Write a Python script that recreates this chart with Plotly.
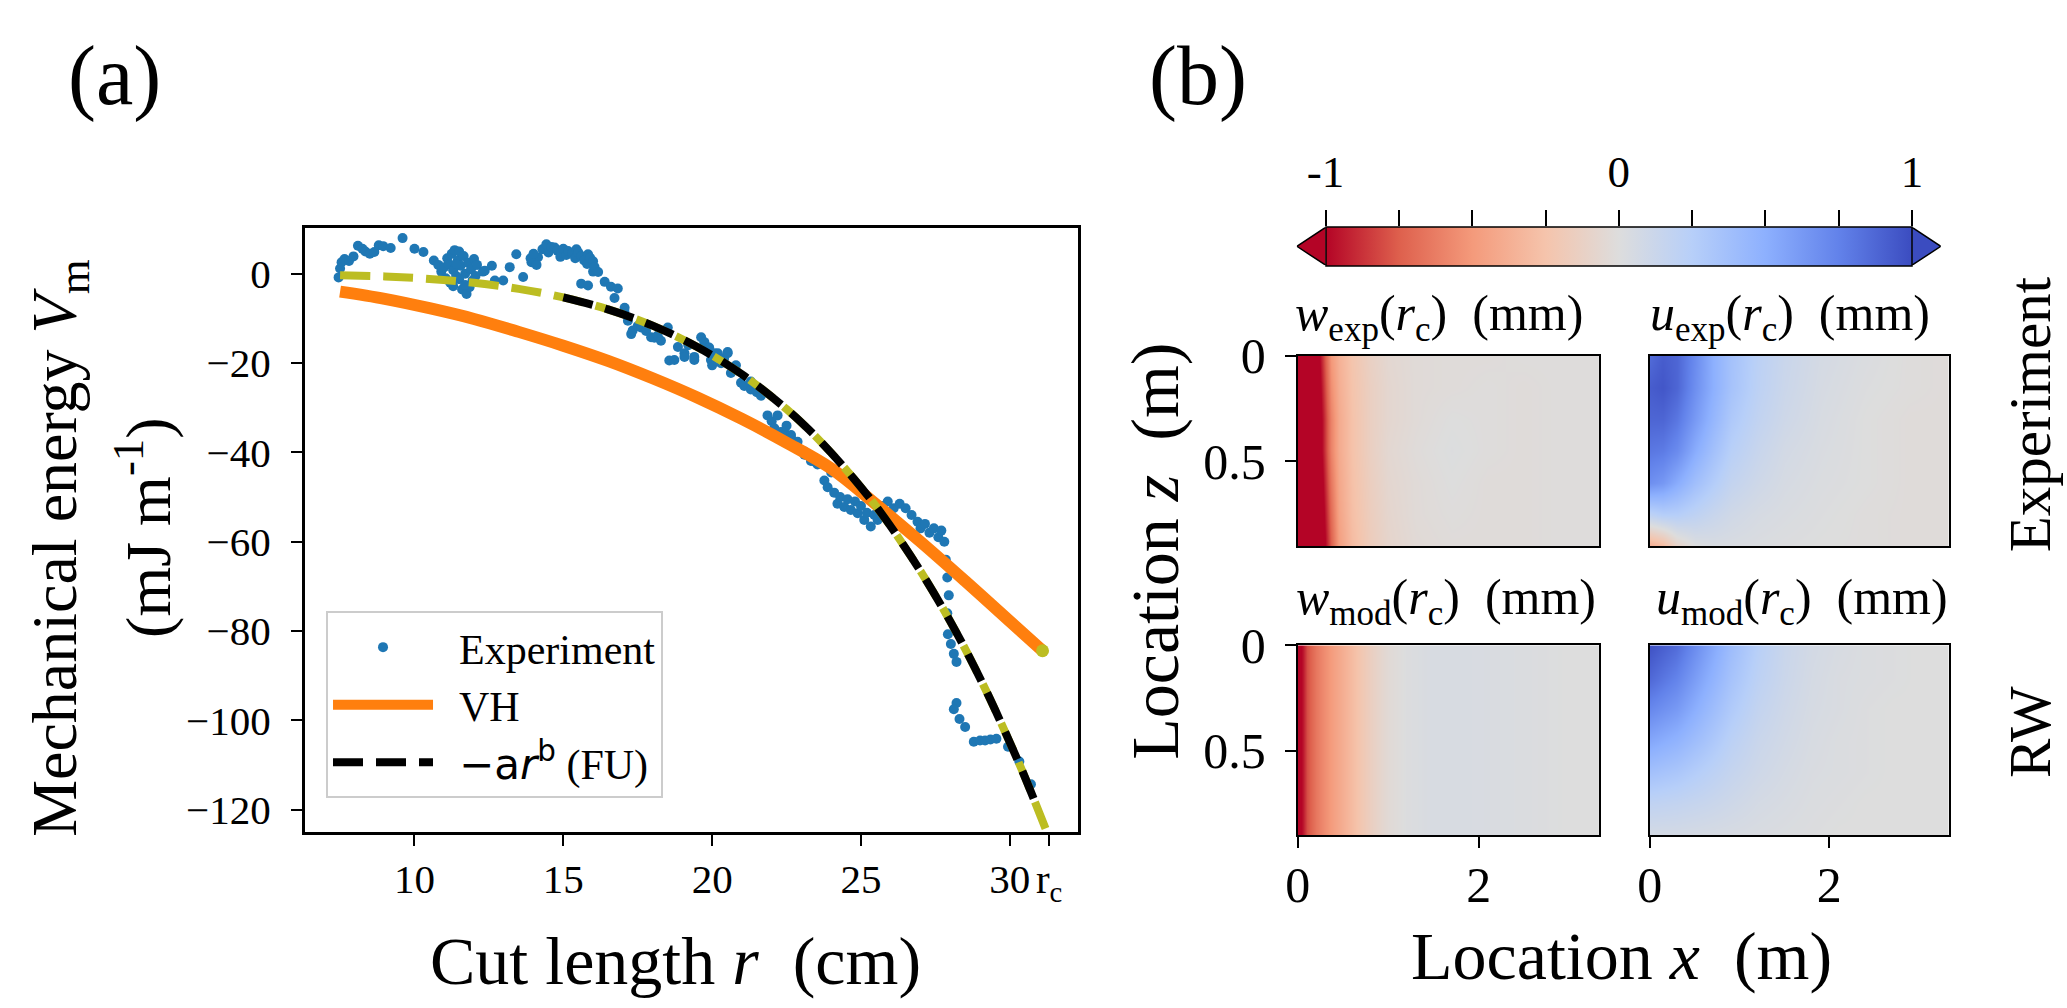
import plotly.graph_objects as go

W, H = 2067, 1008
SERIF = "Liberation Serif"


def px(x):
    return x / W


def py(y):
    return 1 - y / H


# ---------------- panel (a) data ----------------
exp_r = [
    7.45, 7.5, 7.55, 7.65, 7.8, 7.95, 8.1, 8.25, 8.35, 8.5, 8.65, 8.8, 8.95, 9.2, 9.6, 10.0, 10.3,
    10.65, 10.8, 10.9, 11.0, 11.05, 11.1, 11.15, 11.2, 11.25, 11.3, 11.35, 11.4, 11.45, 11.5, 11.55, 11.6,
    11.65, 11.7, 11.75, 11.8, 11.85, 11.9, 11.95, 12.0, 12.05, 12.1, 11.3, 11.5, 11.7, 11.4, 12.3, 12.6, 12.7,
    12.36, 12.98, 13.2, 13.42, 13.65, 13.93, 14.15, 13.9, 14.0, 14.1,
    14.3, 14.43, 14.5, 14.6, 14.71, 14.8, 14.9, 14.93, 15.0, 15.1, 15.16, 15.3, 15.4, 15.44, 15.5, 15.6,
    15.7, 15.8, 15.83, 15.9, 16.0, 16.0, 16.05, 16.17, 15.6, 15.83, 16.39, 16.6, 16.83,
    16.72, 17.05, 17.06, 17.17, 17.28, 17.33, 17.5, 17.61, 17.78, 17.95, 18.06, 18.17, 18.28, 18.51, 18.56, 18.73, 18.85,
    19.07, 19.07, 19.2, 19.4, 19.4, 19.63, 19.74, 19.9, 19.96, 20.0, 20.08, 20.19, 20.3, 20.4, 20.52, 20.52, 20.63, 20.8,
    20.97, 21.08, 21.3, 21.3, 21.5, 21.64, 21.86, 22.0, 22.09, 22.2, 22.31, 22.42, 22.5, 22.65, 22.65, 22.87, 22.87,
    23.1, 23.1, 23.32, 23.43,
    23.54, 23.77, 23.88, 24.0, 24.1, 24.21, 24.3, 24.44, 24.55, 24.66, 24.8, 24.89, 25.0, 25.11, 25.2, 25.33, 25.45, 25.56,
    25.7, 25.9, 26.1, 26.3, 26.5, 26.7, 26.9, 27.0, 27.15, 27.3, 27.45, 27.6, 27.7, 27.8, 27.85, 27.9, 27.95, 27.9,
    27.92, 28.02, 28.12, 28.21,
    28.21, 28.12, 28.31, 28.5, 28.79, 29.0, 29.17, 29.35, 29.55, 29.94, 30.32, 30.71,
]
exp_v = [
    -0.8, 1.2, 2.6, 3.3, 2.9, 3.9, 6.3, 5.6, 5.0, 4.5, 4.9, 6.4, 6.2, 5.8, 8.0, 5.6, 4.9,
    3.0, 2.0, 0.5, 1.5, -1.0, 3.5, 2.2, -2.0, 4.5, 0.8, 5.3, -0.5, 3.0, 5.0, 1.8, -3.5,
    4.0, 0.0, -4.5, 2.5, -3.0, 1.0, -1.5, 3.3, -0.5, 2.0, -2.8, -1.2, -2.5, 2.2, 0.5, 1.8, -1.5,
    0.7, -1.5, 1.5, 4.4, -0.7, 2.6, 3.7, 3.5, 4.5, 2.0,
    5.5, 6.6, 4.8, 6.0, 5.9, 5.2, 3.8, 4.8, 5.6, 4.2, 5.1, 4.6, 3.5, 5.5, 4.8, 4.0,
    3.0, 2.2, 4.4, 3.6, 0.5, 2.8, 1.5, 0.4, -2.2, -2.6, -1.8, -2.9, -3.3,
    -5.4, -8.4, -7.6, -10.5, -13.5, -12.7, -11.7, -12.0, -12.8, -14.2, -14.3, -13.8, -15.0, -12.0, -19.4, -19.3, -16.4,
    -17.8, -18.6, -16.0, -18.6, -19.3, -14.2, -15.3, -16.5, -19.3, -20.5, -17.8, -17.8, -20.0, -19.0, -17.8, -17.5, -22.2, -20.5,
    -24.4, -25.1, -25.9, -24.1, -26.5, -27.3, -31.7, -33.0, -34.6, -31.7, -35.4, -35.4, -34.0, -36.1, -36.8, -37.6, -39.0,
    -39.8, -40.5, -41.9, -42.0,
    -42.7, -46.3, -47.8, -44.5, -49.0, -51.5, -50.0, -52.2, -50.5, -52.9, -51.0, -53.6, -52.0, -55.1, -53.5, -56.6, -54.0, -55.1,
    -52.0, -51.0, -52.5, -51.5, -52.5, -54.0, -55.5, -57.0, -56.0, -58.0, -57.0, -59.0, -57.5, -60.0, -64.0, -68.0, -72.0, -76.0,
    -80.7, -82.9, -85.1, -86.9,
    -96.1, -97.5, -99.7, -101.5, -104.8, -104.5, -104.5, -104.3, -104.1, -105.9, -109.2, -114.3,
]

vh_r = [7.5, 9.0, 10.5, 12.0, 13.5, 15.0, 16.5, 18.0, 19.5, 21.0, 22.5, 24.0, 25.5, 27.0, 28.5, 30.0, 31.1]
vh_v = [-4.0, -5.6, -7.7, -10.1, -13.0, -16.1, -19.5, -23.4, -27.7, -32.5, -37.8, -43.6, -51.6, -60.0, -68.8, -77.8, -84.4]

fu_r = [7.5, 9.0, 10.5, 12.0, 13.5, 15.0, 16.5, 18.0, 19.5, 21.0, 22.5, 23.25, 24.0, 24.75, 25.5, 26.25,
        27.0, 27.75, 28.5, 29.25, 30.0, 30.4, 30.8, 31.2]
fu_v = [-0.3, -0.58, -1.14, -2.02, -3.36, -5.29, -7.97, -11.6, -16.4, -22.5, -30.3, -34.9, -40.1, -45.8, -52.0, -59.0,
        -66.6, -74.9, -84.0, -94.0, -104.9, -111.0, -117.5, -124.2]
fu_black_start, fu_black_end = 15.0, 30.8

r_c = 31.32
a_xticks = [10, 15, 20, 25, 30, r_c]
a_xticktext = ["10", "15", "20", "25", "30", "r<sub>c</sub>"]
a_yticks = [0, -20, -40, -60, -80, -100, -120]
a_xrange = [6.31, 32.3]
a_yrange = [-125.0, 10.2]

# ---------------- panel (b) data ----------------
cbar_major = [-1, 0, 1]
cbar_major_text = ["-1", "0", "1"]
cbar_minor = [-0.75, -0.5, -0.25, 0.25, 0.5, 0.75]

z_rows = [0.0, 0.15, 0.3, 0.45, 0.6, 0.75, 0.9]

wexp_x = [0.0, 0.1, 0.2, 0.28, 0.36, 0.45, 0.6, 0.8, 1.0, 1.3, 1.7, 2.1, 2.5, 2.9, 3.34]
w_exp = [
    [-1.3, -1.25, -1.15, -0.85, -0.5, -0.36, -0.24, -0.13, -0.06, -0.03, -0.02, -0.02, -0.01, -0.01, -0.01],
    [-1.3, -1.3, -1.2, -0.9, -0.55, -0.38, -0.25, -0.14, -0.07, -0.03, -0.02, -0.01, -0.02, -0.01, -0.01],
    [-1.3, -1.3, -1.2, -0.95, -0.6, -0.4, -0.26, -0.14, -0.07, -0.03, 0.0, -0.01, -0.02, -0.01, -0.01],
    [-1.3, -1.3, -1.2, -0.95, -0.6, -0.4, -0.26, -0.14, -0.06, -0.02, 0.01, -0.01, -0.02, -0.01, -0.01],
    [-1.3, -1.3, -1.25, -1.0, -0.65, -0.42, -0.27, -0.15, -0.07, -0.03, 0.0, -0.02, -0.02, -0.01, -0.01],
    [-1.3, -1.3, -1.25, -1.05, -0.7, -0.44, -0.28, -0.16, -0.08, -0.03, -0.01, -0.02, -0.02, -0.01, -0.01],
    [-1.3, -1.3, -1.3, -1.1, -0.75, -0.47, -0.3, -0.17, -0.09, -0.04, -0.02, -0.02, -0.02, -0.01, -0.01],
]

uexp_x = [0.0, 0.15, 0.3, 0.5, 0.7, 0.9, 1.2, 1.5, 1.9, 2.4, 2.9, 3.34]
u_exp = [
    [0.85, 0.92, 0.88, 0.7, 0.5, 0.36, 0.22, 0.13, 0.06, 0.02, -0.01, -0.02],
    [0.92, 0.95, 0.88, 0.68, 0.5, 0.35, 0.21, 0.12, 0.05, 0.01, -0.01, -0.02],
    [0.88, 0.88, 0.8, 0.62, 0.45, 0.3, 0.18, 0.1, 0.04, 0.0, -0.02, -0.02],
    [0.8, 0.78, 0.7, 0.52, 0.37, 0.24, 0.14, 0.07, 0.03, 0.0, -0.02, -0.02],
    [0.68, 0.63, 0.52, 0.38, 0.27, 0.17, 0.1, 0.05, 0.02, 0.0, -0.02, -0.02],
    [0.2, 0.25, 0.25, 0.2, 0.14, 0.09, 0.05, 0.03, 0.01, -0.01, -0.02, -0.02],
    [-0.4, -0.32, -0.12, 0.0, 0.03, 0.03, 0.02, 0.01, 0.0, -0.01, -0.02, -0.02],
]

wmod_x = [0.0, 0.05, 0.1, 0.2, 0.3, 0.4, 0.5, 0.6, 0.7, 0.8, 0.9, 1.0, 1.2, 1.5, 1.8, 2.1, 2.5, 3.0, 3.34]
wmod_profile = [-1.1, -0.95, -0.8, -0.65, -0.55, -0.46, -0.38, -0.3, -0.22, -0.15, -0.09, -0.04,
                0.01, 0.04, 0.04, 0.03, 0.02, 0.0, 0.0]
wmod_z = [0.0, 0.9]

umod_x = [0.0, 0.3, 0.6, 0.9, 1.2, 1.5, 1.8, 2.1, 2.4, 2.7, 3.0, 3.3]
u_mod = [
    [0.97, 0.85, 0.62, 0.4, 0.24, 0.13, 0.07, 0.04, 0.02, 0.01, 0.0, 0.0],
    [0.87, 0.74, 0.54, 0.35, 0.21, 0.12, 0.06, 0.03, 0.02, 0.01, 0.0, 0.0],
    [0.72, 0.62, 0.45, 0.29, 0.17, 0.1, 0.05, 0.03, 0.01, 0.0, 0.0, 0.0],
    [0.55, 0.47, 0.35, 0.22, 0.13, 0.08, 0.04, 0.02, 0.01, 0.0, 0.0, 0.0],
    [0.37, 0.32, 0.24, 0.16, 0.1, 0.06, 0.03, 0.02, 0.01, 0.0, 0.0, 0.0],
    [0.19, 0.17, 0.14, 0.1, 0.06, 0.04, 0.02, 0.01, 0.0, 0.0, 0.0, 0.0],
    [0.06, 0.06, 0.05, 0.04, 0.03, 0.02, 0.01, 0.0, 0.0, 0.0, 0.0, 0.0],
]
hm_xticks = [0, 2]
hm_yticks = [0, 0.5]
hm_yticktext = ["0", "0.5"]
hm_xrange = [0, 3.33]
hm_zrange = [0.9, 0]

COOLWARM_R = [
    [0.0, "#b40426"], [0.125, "#de604d"], [0.25, "#f49a7b"], [0.375, "#f5c4ac"],
    [0.5, "#dddddd"], [0.625, "#b7cff9"], [0.75, "#8db0fe"], [0.875, "#6282ea"], [1.0, "#3b4cc0"],
]

# ---------------- figure ----------------
fig = go.Figure()

NB = "\u00a0\u00a0"

fig.add_trace(go.Scatter(x=exp_r, y=exp_v, mode="markers", name=NB + "Experiment", legendgroup="g1",
                         marker=dict(color="#1f77b4", size=10), xaxis="x", yaxis="y"))
fig.add_trace(go.Scatter(x=vh_r, y=vh_v, mode="lines", name=NB + "VH", legendgroup="g2",
                         line=dict(color="#ff7f0e", width=12, shape="spline"), xaxis="x", yaxis="y"))
fig.add_trace(go.Scatter(x=[vh_r[-1]], y=[vh_v[-1]], mode="markers", showlegend=False,
                         marker=dict(color="#bcbd22", size=13), xaxis="x", yaxis="y"))
fig.add_trace(go.Scatter(x=fu_r, y=fu_v, mode="lines", showlegend=False,
                         line=dict(color="#bcbd22", width=8, dash="30px,13px", shape="spline"),
                         xaxis="x", yaxis="y"))
black_r = [r for r in fu_r if fu_black_start <= r <= fu_black_end]
black_v = [v for r, v in zip(fu_r, fu_v) if fu_black_start <= r <= fu_black_end]
fig.add_trace(go.Scatter(
    x=black_r, y=black_v, mode="lines", legendgroup="g3",
    name=NB + "<span style='font-family:DejaVu Sans'>\u2212a<i>r</i><sup>b</sup></span> (FU)",
    line=dict(color="black", width=8, dash="30px,13px", shape="spline"), xaxis="x", yaxis="y"))

# heatmaps
fig.add_trace(go.Heatmap(x=wexp_x, y=z_rows, z=w_exp, coloraxis="coloraxis", zsmooth="best",
                         xaxis="x3", yaxis="y3", hoverinfo="skip"))
fig.add_trace(go.Heatmap(x=uexp_x, y=z_rows, z=u_exp, coloraxis="coloraxis", zsmooth="best",
                         xaxis="x4", yaxis="y4", hoverinfo="skip"))
fig.add_trace(go.Heatmap(x=wmod_x, y=wmod_z, z=[wmod_profile for _ in wmod_z], coloraxis="coloraxis",
                         zsmooth="best", xaxis="x5", yaxis="y5", hoverinfo="skip"))
fig.add_trace(go.Heatmap(x=umod_x, y=z_rows, z=u_mod, coloraxis="coloraxis", zsmooth="best",
                         xaxis="x6", yaxis="y6", hoverinfo="skip"))

# helper trace carrying the colorbar tick axis
fig.add_trace(go.Scatter(x=[cbar_major[0], cbar_major[-1]], y=[0.5, 0.5], mode="markers",
                         marker=dict(opacity=0), showlegend=False, hoverinfo="skip",
                         xaxis="x7", yaxis="y7"))

# ---------------- layout ----------------
A_X = [px(293.5), px(1072)]
A_Y = [py(827), py(206)]
HM_LX = [px(1293), px(1596)]
HM_RX = [px(1647), px(1948)]
HM_TY = [py(533), py(337)]
HM_BY = [py(830), py(635)]
CB_X = [px(1292), px(1940)]
CB_Y = [py(244), py(205)]
CB_HALF = 1.098

tick_font = dict(family=SERIF, size=41, color="black")
hm_tick_font = dict(family=SERIF, size=50, color="black")

base = dict(showgrid=False, zeroline=False, showline=True, mirror=True, linecolor="black",
            tickcolor="black")

layout_axes = dict(
    xaxis=dict(domain=A_X, anchor="y", range=a_xrange, tickvals=a_xticks, ticktext=a_xticktext,
               ticks="outside", ticklen=11, tickwidth=2, linewidth=2.5, tickfont=tick_font,
               tickangle=0, ticklabelstandoff=-2, **base),
    yaxis=dict(domain=A_Y, anchor="x", range=a_yrange, tickvals=a_yticks,
               ticks="outside", ticklen=11, tickwidth=2, linewidth=2.5, tickfont=tick_font,
               ticklabelstandoff=12, **base),
    xaxis3=dict(domain=HM_LX, anchor="y3", range=hm_xrange, ticks="", showticklabels=False,
                linewidth=2, **base),
    yaxis3=dict(domain=HM_TY, anchor="x3", range=hm_zrange, tickvals=hm_yticks, ticktext=hm_yticktext,
                ticks="outside", ticklen=11, tickwidth=2, linewidth=2, tickfont=hm_tick_font,
                ticklabelstandoff=9, **base),
    xaxis4=dict(domain=HM_RX, anchor="y4", range=hm_xrange, ticks="", showticklabels=False,
                linewidth=2, **base),
    yaxis4=dict(domain=HM_TY, anchor="x4", range=hm_zrange, ticks="", showticklabels=False,
                linewidth=2, **base),
    xaxis5=dict(domain=HM_LX, anchor="y5", range=hm_xrange, tickvals=hm_xticks, ticks="outside",
                ticklen=11, tickwidth=2, linewidth=2, tickfont=hm_tick_font, ticklabelstandoff=-6, **base),
    yaxis5=dict(domain=HM_BY, anchor="x5", range=hm_zrange, tickvals=hm_yticks, ticktext=hm_yticktext,
                ticks="outside", ticklen=11, tickwidth=2, linewidth=2, tickfont=hm_tick_font,
                ticklabelstandoff=9, **base),
    xaxis6=dict(domain=HM_RX, anchor="y6", range=hm_xrange, tickvals=hm_xticks, ticks="outside",
                ticklen=11, tickwidth=2, linewidth=2, tickfont=hm_tick_font, ticklabelstandoff=-6, **base),
    yaxis6=dict(domain=HM_BY, anchor="x6", range=hm_zrange, ticks="", showticklabels=False,
                linewidth=2, **base),
    xaxis7=dict(domain=CB_X, anchor="y7", side="top", range=[-CB_HALF, CB_HALF], tickmode="array",
                tickvals=cbar_major, ticktext=cbar_major_text, ticks="outside", ticklen=16, tickwidth=1.5,
                tickcolor="black", showline=False, showgrid=False, zeroline=False,
                minor=dict(tickmode="array", tickvals=cbar_minor, ticks="outside", ticklen=16, tickwidth=1.5,
                           tickcolor="black", showgrid=False),
                tickfont=dict(family=SERIF, size=45, color="black"), ticklabelstandoff=5, fixedrange=True),
    yaxis7=dict(domain=CB_Y, anchor="x7", range=[0, 1], visible=False, fixedrange=True),
)

fig.update_layout(
    width=W, height=H, autosize=False,
    margin=dict(l=0, r=0, t=0, b=0),
    paper_bgcolor="white", plot_bgcolor="white",
    font=dict(family=SERIF, color="black"),
    showlegend=True,
    legend=dict(x=px(315), y=py(600), xanchor="left", yanchor="top", bgcolor="white",
                bordercolor="#cccccc", borderwidth=2, font=dict(family=SERIF, size=42, color="black"),
                itemwidth=100, tracegroupgap=19, traceorder="normal"),
    coloraxis=dict(cmin=-1, cmax=1, colorscale=COOLWARM_R,
                   colorbar=dict(orientation="h", x=px(1616), xanchor="center", y=py(205), yanchor="top",
                                 len=590 / W, lenmode="fraction", thickness=39, thicknessmode="pixels",
                                 outlinewidth=1.5, outlinecolor="black", ticks="", showticklabels=False,
                                 xpad=0, ypad=0)),
    **layout_axes,
)

fig.add_shape(type="path", path=f"M -1,0 L {-CB_HALF},0.5 L -1,1", xref="x7", yref="y7",
              fillcolor=COOLWARM_R[0][1], line=dict(color="black", width=1.5))
fig.add_shape(type="path", path=f"M 1,0 L {CB_HALF},0.5 L 1,1", xref="x7", yref="y7",
              fillcolor=COOLWARM_R[-1][1], line=dict(color="black", width=1.5))


def ann(text, x, y, size, angle=0, xanchor="center", yanchor="middle"):
    fig.add_annotation(text=text, x=px(x), y=py(y), xref="paper", yref="paper", showarrow=False,
                       textangle=angle, xanchor=xanchor, yanchor=yanchor,
                       font=dict(family=SERIF, size=size, color="black"))


ann("(a)", 102, 49, 84)
ann("(b)", 1192, 49, 84)
ann("Cut length <i>r</i>" + NB + "(cm)", 667, 960, 68)
ann("Mechanical energy <i>V</i><sub>m</sub>", 46, 535, 64, angle=-90)
ann("(mJ m<sup>-1</sup>)", 132, 514, 64, angle=-90)
ann("<i>w</i><sub>exp</sub>(<i>r</i><sub>c</sub>)" + NB + "(mm)", 1435, 297, 50)
ann("<i>u</i><sub>exp</sub>(<i>r</i><sub>c</sub>)" + NB + "(mm)", 1788, 297, 50)
ann("<i>w</i><sub>mod</sub>(<i>r</i><sub>c</sub>)" + NB + "(mm)", 1442, 589, 50)
ann("<i>u</i><sub>mod</sub>(<i>r</i><sub>c</sub>)" + NB + "(mm)", 1800, 589, 50)
ann("Location <i>z</i>" + NB + "(m)", 1149, 538, 68, angle=-90)
ann("Location <i>x</i>" + NB + "(m)", 1619, 954, 68)
ann("Experiment", 2030, 397, 59, angle=-90)
ann("RW", 2030, 724, 59, angle=-90)

fig.write_html("out.html", config={"displayModeBar": False},
               post_script="document.body.style.margin='0';")
